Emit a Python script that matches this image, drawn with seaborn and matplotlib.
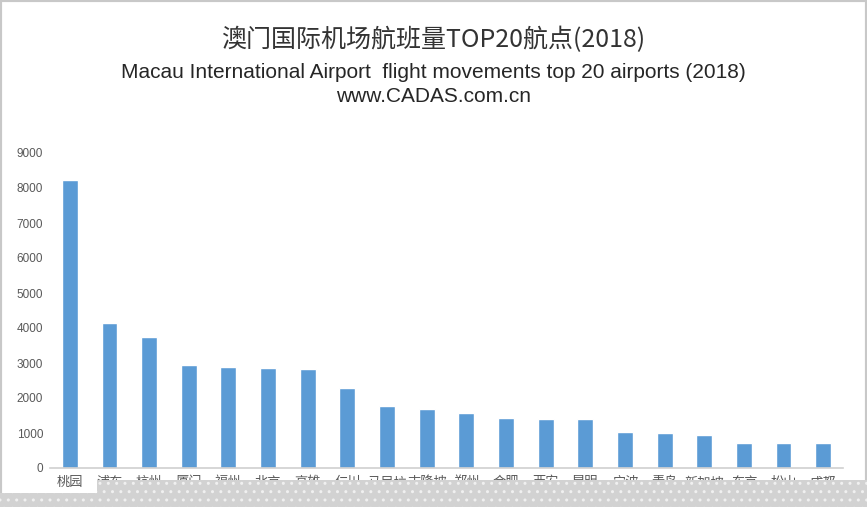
import pandas as pd
import seaborn as sns
import matplotlib.pyplot as plt
from matplotlib.patches import Rectangle

# data
airports = ["桃园", "浦东", "杭州", "厦门", "福州", "北京", "高雄", "仁川", "马尼拉", "吉隆坡",
            "郑州", "合肥", "西安", "昆明", "宁波", "青岛", "新加坡", "东京", "松山", "成都"]
flights = [8230, 4140, 3740, 2940, 2890, 2860, 2830, 2290, 1770, 1690,
           1570, 1430, 1400, 1400, 1030, 1000, 940, 715, 715, 715]
yticks = list(range(0, 9001, 1000))

df = pd.DataFrame({"airport": airports, "flights": flights})

sns.set_theme(style="white")
plt.rcParams["font.family"] = ["Liberation Sans", "Noto Sans CJK SC", "DejaVu Sans"]

W, H = 867, 507
fig = plt.figure(figsize=(W / 100, H / 100), dpi=100)
ax = fig.add_axes([50 / W, (H - 468) / H, (843 - 50) / W, (468 - 153) / H])

sns.barplot(data=df, x="airport", y="flights", color="#5B9BD5", width=0.4,
            saturation=1, ax=ax)

ax.set_xlim(-0.5, len(airports) - 0.5)
ax.set_ylim(0, 9000)
ax.set_yticks(yticks)
ax.set_xlabel("")
ax.set_ylabel("")
ax.tick_params(axis="both", length=0, labelsize=8.5, labelcolor="#595959")
ax.tick_params(axis="y", pad=5)
ax.tick_params(axis="x", pad=6, labelsize=9.5)
for lab in ax.get_xticklabels():
    lab.set_fontfamily(["Noto Sans CJK SC", "DejaVu Sans"])
for s in ["top", "right", "left"]:
    ax.spines[s].set_visible(False)
ax.spines["bottom"].set_color("#d0d0d0")
ax.spines["bottom"].set_linewidth(1.2)

fig.text(0.5, (H - 40) / H, "澳门国际机场航班量TOP20航点(2018)", ha="center", va="center",
         fontsize=18, color="#333333", family=["Noto Sans CJK SC", "DejaVu Sans"])
fig.text(0.5, (H - 73) / H, "Macau International Airport  flight movements top 20 airports (2018)",
         ha="center", va="center", fontsize=15, color="#262626")
fig.text(0.5, (H - 97) / H, "www.CADAS.com.cn", ha="center", va="center",
         fontsize=15, color="#262626")

# screenshot frame and grey band covering the lower edge
fig.add_artist(Rectangle((0, 0), 1, 1, transform=fig.transFigure, fill=False,
                         edgecolor="#c8c8c8", linewidth=3, zorder=9))
fig.add_artist(Rectangle((97 / W, 0), 1, (H - 480) / H, transform=fig.transFigure,
                         facecolor="#d2d2d2", edgecolor="#f0f0f0", hatch="..",
                         linewidth=0, zorder=10))
fig.add_artist(Rectangle((0, 0), 1, (H - 493) / H, transform=fig.transFigure,
                         facecolor="#d2d2d2", edgecolor="#f0f0f0", hatch="..",
                         linewidth=0, zorder=10))

fig.savefig("out.png", dpi=100)
